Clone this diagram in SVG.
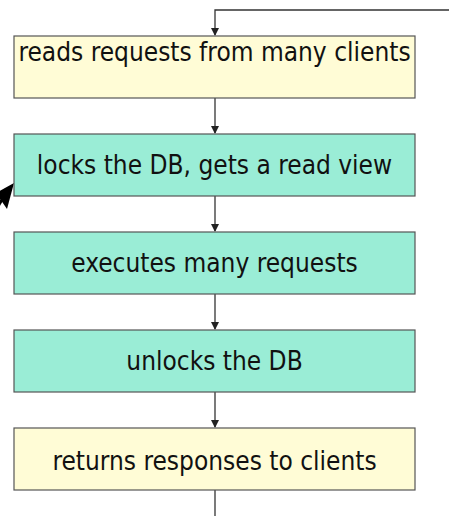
<svg xmlns="http://www.w3.org/2000/svg" width="449" height="516" viewBox="0 0 449 516">
<defs>
<style>
.box{stroke:#555555;stroke-width:1.2}
.y{fill:#FFFCD6}
.g{fill:#9AEDD6}
.t{font-family:"DejaVu Sans Condensed","DejaVu Sans",Verdana,sans-serif;font-stretch:condensed;font-size:26px;fill:#111111;text-anchor:middle}
.c{stroke:#333333;stroke-width:1.3;fill:none}
</style>
<marker id="ah" markerWidth="8" markerHeight="8" refX="7" refY="4" orient="auto" markerUnits="userSpaceOnUse">
<path d="M0,0 L8,4 L0,8 z" fill="#222222"/>
</marker>
</defs>
<rect width="449" height="516" fill="#ffffff"/>
<g id="connectors">
<path class="c" d="M449,10 H215 V35" marker-end="url(#ah)"/>
<path class="c" d="M215,98 V133" marker-end="url(#ah)"/>
<path class="c" d="M215,196 V231" marker-end="url(#ah)"/>
<path class="c" d="M215,294 V329" marker-end="url(#ah)"/>
<path class="c" d="M215,392 V427" marker-end="url(#ah)"/>
<path class="c" d="M215,490 V516"/>
<g id="external-arrow">
<line x1="-12" y1="222" x2="3" y2="198" stroke="#000000" stroke-width="3"/>
<polygon points="14,183 -4,193 7,209" fill="#000000"/>
</g>
</g>
<g id="n1">
<rect class="box y" x="14" y="36" width="401" height="62"/>
<text class="t" x="214.5" y="61">reads requests from many clients</text>
</g>
<g id="n2">
<rect class="box g" x="14" y="134" width="401" height="62"/>
<text class="t" x="214.5" y="174">locks the DB, gets a read view</text>
</g>
<g id="n3">
<rect class="box g" x="14" y="232" width="401" height="62"/>
<text class="t" x="214.5" y="272">executes many requests</text>
</g>
<g id="n4">
<rect class="box g" x="14" y="330" width="401" height="62"/>
<text class="t" x="214.5" y="370">unlocks the DB</text>
</g>
<g id="n5">
<rect class="box y" x="14" y="428" width="401" height="62"/>
<text class="t" x="214.5" y="470">returns responses to clients</text>
</g>
</svg>
